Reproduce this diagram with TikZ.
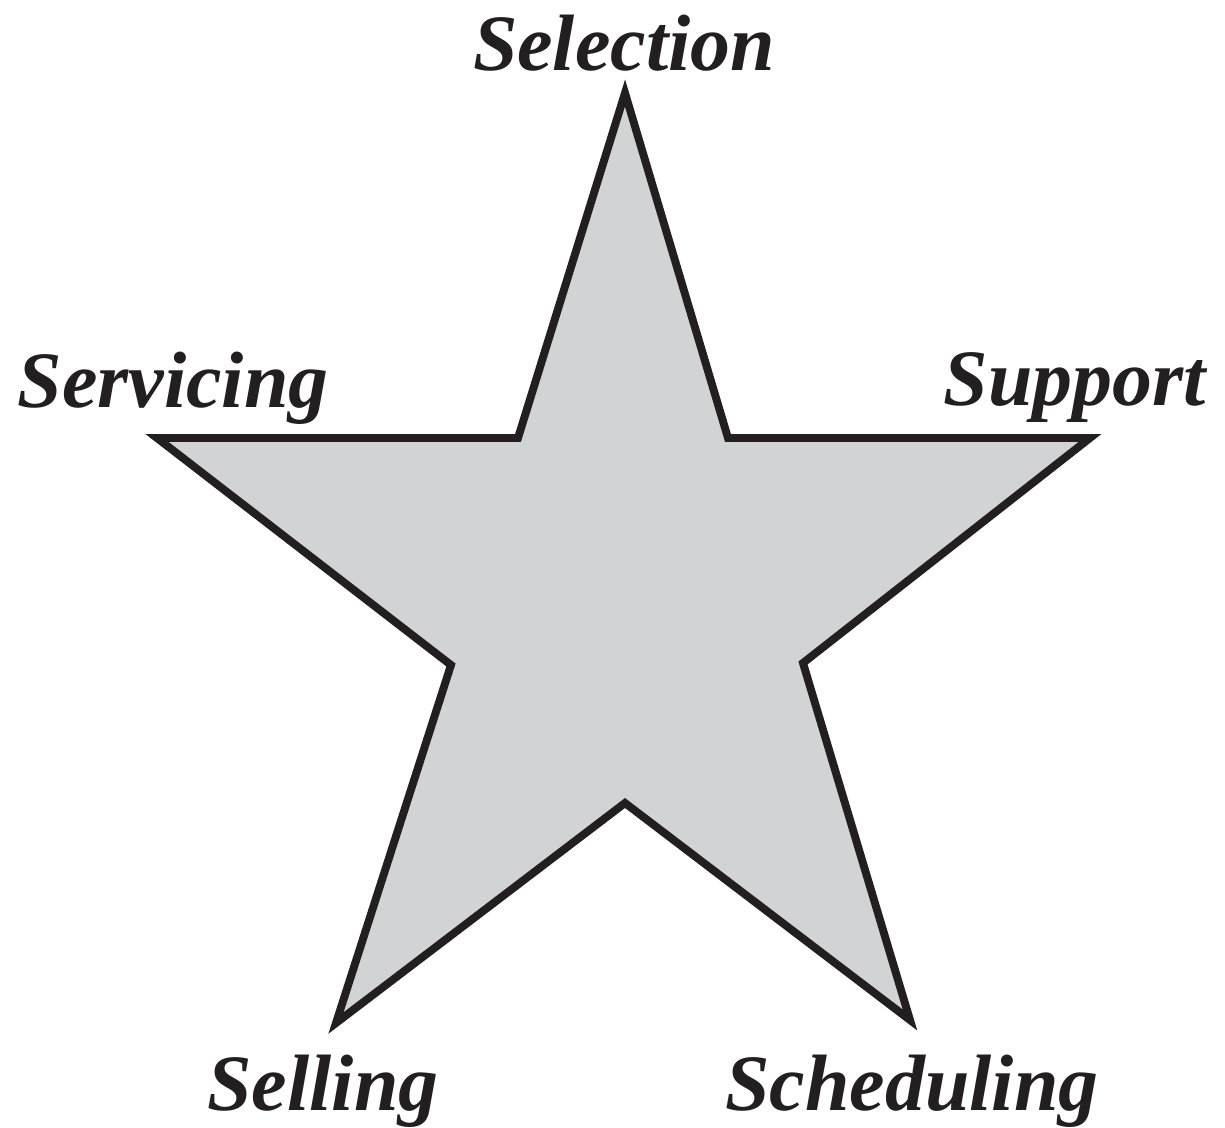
\documentclass[tikz,border=0pt]{standalone}
\usepackage{fontspec}
\setmainfont{Liberation Serif}
\definecolor{stargray}{HTML}{D1D3D4}
\definecolor{inkblack}{HTML}{231F20}
\begin{document}
\begin{tikzpicture}[x=0.02cm,y=-0.02cm,
  lbl/.style={anchor=base,inner sep=0pt,font=\fontsize{45.5pt}{50pt}\selectfont\bfseries\itshape,text=inkblack},
  starshape/.style={draw=inkblack,fill=stargray,line width=4.5pt,line join=miter,miter limit=10}]
\useasboundingbox (0,0) rectangle (1225,1127);
\coordinate (t) at (625,93);
\coordinate (itr) at (728,438);
\coordinate (r) at (1090,438);
\coordinate (ir) at (803,663);
\coordinate (br) at (910,1020);
\coordinate (ib) at (625,803);
\coordinate (bl) at (336,1023);
\coordinate (il) at (451,665);
\coordinate (l) at (157,438);
\coordinate (itl) at (518,438);
\draw[starshape] (t) -- (itr) -- (r) -- (ir) -- (br) -- (ib) -- (bl) -- (il) -- (l) -- (itl) -- cycle;
\node[lbl] (selection) at (624,70) {Selection};
\node[lbl] (servicing) at (173,407) {Servicing};
\node[lbl] (support) at (1075,405) {Support};
\node[lbl] (selling) at (323,1110) {Selling};
\node[lbl] (scheduling) at (912,1110) {Scheduling};
\end{tikzpicture}
\end{document}
